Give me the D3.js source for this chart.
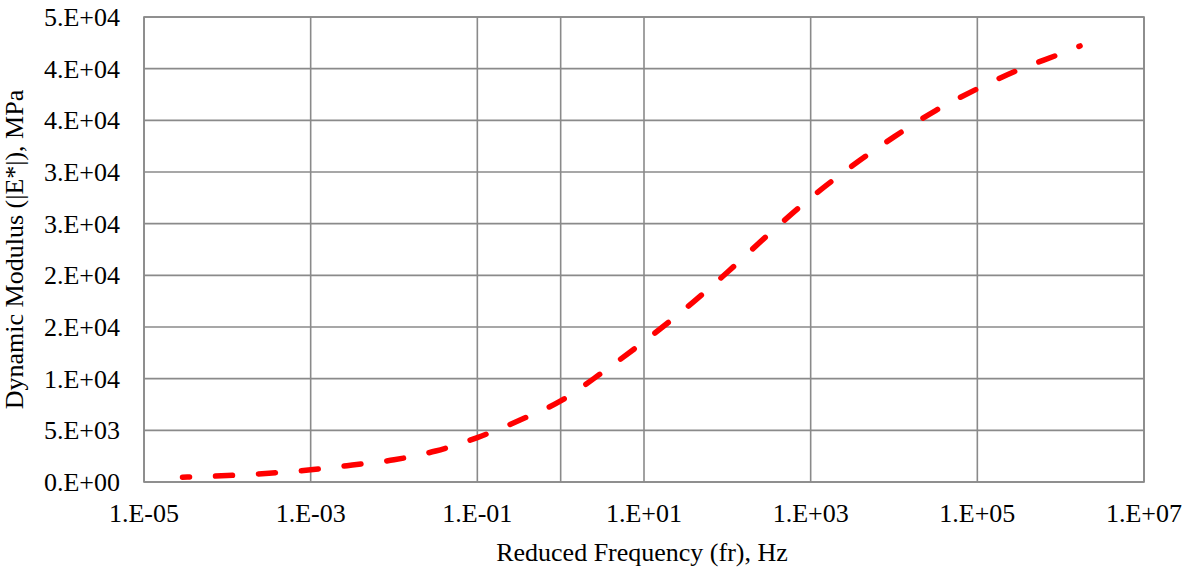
<!DOCTYPE html>
<html>
<head>
<meta charset="utf-8">
<script src="https://cdn.jsdelivr.net/npm/d3@7"></script>
<style>
  html, body { margin: 0; padding: 0; background: #ffffff; }
  svg { display: block; }
  text { font-family: "Liberation Serif", "Times New Roman", serif; fill: #000; }
</style>
</head>
<body>
<svg id="chart" width="1194" height="571"></svg>
<script>
// Master curve: reduced frequency (Hz) vs dynamic modulus |E*| (MPa)
const frequency = [2.9e-5, 1e-4, 3.16e-4, 1e-3, 3.16e-3, 1e-2, 3.16e-2, 1e-1, 3.16e-1,
                   1, 3.16, 10, 31.6, 100, 316, 1000, 3160, 1e4, 3.16e4, 1e5, 3.16e5, 1e6, 1.71e6];
const modulus = [470, 620, 850, 1180, 1640, 2150, 3000, 4300, 5950,
                 7850, 10600, 13600, 16800, 20300, 24000, 27500, 30600, 33400, 35950, 38050, 39900, 41450, 42200];

// Axis ticks
const xGridValues = [1e-5, 1e-3, 1e-1, 1, 1e1, 1e3, 1e5, 1e7];
const xLabelValues = [1e-5, 1e-3, 1e-1, 1e1, 1e3, 1e5, 1e7];
const xLabels = ["1.E-05", "1.E-03", "1.E-01", "1.E+01", "1.E+03", "1.E+05", "1.E+07"];
const yTickValues = [0, 5000, 10000, 15000, 20000, 25000, 30000, 35000, 40000, 45000];
const yLabels = ["0.E+00", "5.E+03", "1.E+04", "2.E+04", "2.E+04", "3.E+04", "3.E+04", "4.E+04", "4.E+04", "5.E+04"];

const xTitle = "Reduced Frequency (fr), Hz";
const yTitle = "Dynamic Modulus (|E*|), MPa";

const plot = { left: 144, right: 1144, top: 17, bottom: 482 };
const gridColor = "#8a8a8a";
const fontSize = 26;

const svg = d3.select("#chart");

const x = d3.scaleLog().domain([1e-5, 1e7]).range([plot.left, plot.right]);
const y = d3.scaleLinear().domain([0, 45000]).range([plot.bottom, plot.top]);

// Horizontal gridlines
svg.append("g")
  .selectAll("line")
  .data(yTickValues)
  .join("line")
  .attr("x1", plot.left).attr("x2", plot.right)
  .attr("y1", d => y(d)).attr("y2", d => y(d))
  .attr("stroke", gridColor).attr("stroke-width", 1.6);

// Vertical gridlines
svg.append("g")
  .selectAll("line")
  .data(xGridValues)
  .join("line")
  .attr("x1", d => x(d)).attr("x2", d => x(d))
  .attr("y1", plot.top).attr("y2", plot.bottom)
  .attr("stroke", gridColor).attr("stroke-width", 1.6);

// Plot border
svg.append("rect")
  .attr("x", plot.left).attr("y", plot.top)
  .attr("width", plot.right - plot.left).attr("height", plot.bottom - plot.top)
  .attr("fill", "none").attr("stroke", gridColor).attr("stroke-width", 1.6);

// Y tick labels
svg.append("g")
  .selectAll("text")
  .data(yTickValues)
  .join("text")
  .attr("x", 120)
  .attr("y", d => y(d) + 9)
  .attr("text-anchor", "end")
  .style("font-size", fontSize + "px")
  .text((d, i) => yLabels[i]);

// X tick labels
svg.append("g")
  .selectAll("text")
  .data(xLabelValues)
  .join("text")
  .attr("x", d => x(d))
  .attr("y", plot.bottom + 40)
  .attr("text-anchor", "middle")
  .style("font-size", fontSize + "px")
  .text((d, i) => xLabels[i]);

// Axis titles
svg.append("text")
  .attr("x", 642).attr("y", 561)
  .attr("text-anchor", "middle")
  .style("font-size", fontSize + "px")
  .text(xTitle);

svg.append("text")
  .attr("transform", `translate(23, ${(plot.top + plot.bottom) / 2}) rotate(-90)`)
  .attr("text-anchor", "middle")
  .style("font-size", fontSize + "px")
  .text(yTitle);

// Dashed master curve
const points = frequency.map((f, i) => [f, modulus[i]]);
const line = d3.line()
  .x(d => x(d[0]))
  .y(d => y(d[1]))
  .curve(d3.curveMonotoneX);

svg.append("path")
  .datum(points)
  .attr("d", line)
  .attr("fill", "none")
  .attr("stroke", "#ff0000")
  .attr("stroke-width", 5.5)
  .attr("stroke-linecap", "round")
  .attr("stroke-dasharray", "17,26")
  .attr("stroke-dashoffset", 10);
</script>
</body>
</html>
